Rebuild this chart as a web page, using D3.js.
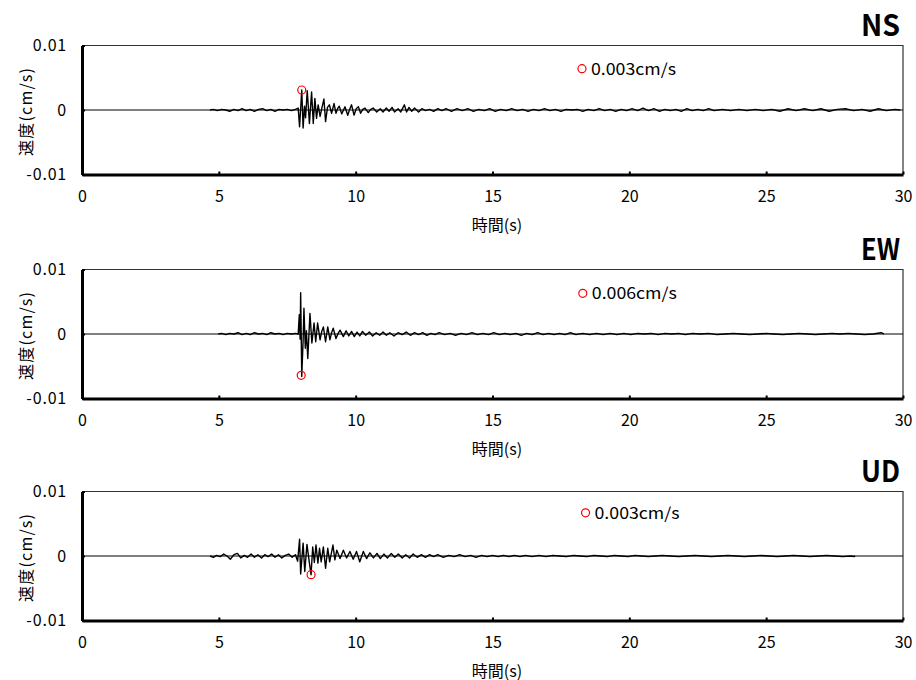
<!DOCTYPE html>
<html><head><meta charset="utf-8">
<script src="https://cdn.jsdelivr.net/npm/d3@7"></script>
<style>
html,body{margin:0;padding:0;background:#fff;}
svg{display:block;}
text{font-family:"Noto Sans CJK JP","Noto Sans",sans-serif;fill:#000;}
</style></head>
<body>
<svg id="chart" width="916" height="680"></svg>
<script>
// ---------- DATA ----------
const components = ["NS", "EW", "UD"];
const peakLabels = ["0.003cm/s", "0.006cm/s", "0.003cm/s"];
// peak point (time s, velocity cm/s) marked with red circle
const peakPoints = [[8.03, 0.0031], [8.01, -0.0064], [8.37, -0.0029]];
// legend marker position (time s, velocity cm/s)
const legendPoints = [[18.27, 0.0064], [18.3, 0.0063], [18.4, 0.0067]];
const xTicks = [0, 5, 10, 15, 20, 25, 30];
const yTicks = [-0.01, 0, 0.01];
const yTickLabels = ["-0.01", "0", "0.01"];
const xTitle = "時間(s)";
const yTitle = "速度(cm/s)";

// velocity waveforms: [time s, velocity cm/s]
const nsData = [[4.68,0],[4.8,0.0001],[4.95,-0.0001],[5.1,0.0001],[5.25,0],[5.4,-0.0002],[5.55,0.0001],[5.7,-0.0001],[5.85,0.0002],[6.0,-0.0001],[6.15,0.0001],[6.3,-0.0002],[6.45,0.0001],[6.6,0.0002],[6.75,-0.0001],[6.9,0.0001],[7.05,-0.0002],[7.2,0.0001],[7.35,0],[7.5,0.0001],[7.65,-0.0001],[7.8,0.0001],[7.9,0.0003],
[7.95,-0.0026],[8.03,0.0031],[8.08,-0.0028],[8.13,0.0006],[8.17,-0.0012],[8.23,0.0030],[8.31,-0.0021],[8.39,0.0028],[8.45,-0.0021],[8.51,0.0018],[8.57,-0.0013],[8.63,0.0008],[8.70,-0.0010],[8.77,0.0004],[8.84,0.0017],[8.90,-0.0018],[8.97,0.0004],[9.04,0.0008],[9.12,-0.0005],[9.21,0.0010],[9.28,-0.0005],[9.34,0.0002],[9.40,0.0006],[9.49,-0.0006],[9.61,0.0005],[9.71,-0.0008],[9.78,0.0001],[9.85,0.0008],[9.94,-0.0008],[10.02,0.0002],[10.10,0.0005],[10.18,-0.0005],[10.26,0.0001],[10.34,0.0003],[10.46,-0.0004],[10.55,0.0001],[10.64,0.0003],[10.77,-0.0003],
[10.9,0.0002],[11.0,-0.0003],[11.12,0.0003],[11.22,-0.0002],[11.33,0.0004],[11.42,-0.0003],[11.55,0.0002],[11.65,-0.0003],[11.78,0.0008],[11.86,-0.0003],[11.95,0.0004],[12.05,-0.0002],[12.15,0.0003],[12.3,-0.0003],[12.42,0.0002],[12.55,-0.0001],[12.7,0.0001],[12.85,-0.0002],[13.0,0.0002],[13.15,-0.0001],[13.3,0.0002],[13.5,-0.0002],[13.7,0.0002],[13.9,-0.0001],[14.1,0.0002],[14.3,-0.0002],[14.5,0.0001],[14.7,-0.0001],[14.9,0.0002],[15.1,-0.0002],[15.3,0.0001],[15.5,-0.0001],[15.7,0.0002],[15.9,-0.0001],[16.1,0.0001],[16.3,-0.0002],[16.5,0.0001],[16.7,-0.0001],[16.9,0.0002],[17.1,-0.0001],[17.3,0.0001],[17.5,-0.0002],[17.7,0.0001],[17.9,0],[18.1,0.0001],[18.3,-0.0002],[18.5,0.0001],[18.7,-0.0001],[18.9,0.0002],[19.1,-0.0001],[19.3,0.0001],[19.5,-0.0002],[19.7,0.0001],[19.9,-0.0001],[20.1,0.0002],[20.3,-0.0001],[20.5,0.0003],[20.7,-0.0001],[20.9,0.0002],[21.1,-0.0002],[21.3,0.0001],[21.5,-0.0001],[21.7,0.0001],[21.9,-0.0002],[22.1,0.0002],[22.3,-0.0001],[22.5,0.0001],[22.7,-0.0001],[22.9,0.0002],[23.1,-0.0001],[23.4,0.0001],[23.7,-0.0001],[24.0,0.0001],[24.3,-0.0001],[24.6,0.0001],[24.9,-0.0001],[25.2,0.0001],[25.5,-0.0002],[25.8,0.0002],[26.1,-0.0001],[26.4,0.0002],[26.7,-0.0001],[27.0,0.0002],[27.3,-0.0002],[27.6,0.0001],[27.9,0.0002],[28.2,-0.0001],[28.5,0.0001],[28.8,-0.0002],[29.1,0.0002],[29.4,-0.0001],[29.7,0.0001],[29.9,0]];

const ewData = [[4.98,0],[5.1,0.0001],[5.25,-0.0001],[5.4,0.0001],[5.55,0],[5.7,0.0002],[5.85,-0.0001],[6.0,0.0001],[6.15,-0.0001],[6.3,0.0002],[6.45,0],[6.6,0.0001],[6.75,-0.0001],[6.9,0.0002],[7.05,0],[7.2,0.0001],[7.35,-0.0001],[7.5,0.0001],[7.65,0],[7.8,0.0001],[7.9,0],
[7.94,0.0030],[7.97,-0.0008],[7.99,0.0064],[8.03,-0.0066],[8.08,-0.0010],[8.11,0.0040],[8.16,-0.0022],[8.20,0.0005],[8.25,-0.0038],[8.33,0.0032],[8.40,-0.0014],[8.48,0.0017],[8.54,-0.0012],[8.61,0.0017],[8.70,-0.0009],[8.76,0.0004],[8.82,0.0011],[8.90,-0.0012],[8.98,0.0011],[9.06,-0.0009],[9.12,0.0002],[9.18,0.0009],[9.28,-0.0007],[9.36,0.0001],[9.43,0.0006],[9.55,-0.0004],[9.65,0.0005],[9.75,-0.0003],[9.85,0.0004],[9.95,-0.0004],[10.05,0.0003],[10.15,-0.0003],[10.25,0.0004],[10.37,-0.0002],[10.5,0.0003],[10.62,-0.0003],[10.75,0.0002],[10.88,-0.0002],[11.0,0.0003],[11.12,-0.0002],[11.25,0.0002],[11.4,-0.0003],[11.55,0.0002],[11.7,-0.0001],[11.85,0.0003],[12.0,-0.0002],[12.15,0.0002],[12.3,-0.0001],[12.45,0.0002],[12.6,-0.0002],[12.75,0.0001],[12.9,-0.0001],[13.05,0.0002],[13.25,-0.0001],[13.45,0.0001],[13.65,-0.0002],[13.85,0.0001],[14.05,-0.0001],[14.25,0.0002],[14.45,-0.0001],[14.65,0.0001],[14.85,-0.0001],[15.05,0.0002],[15.25,-0.0001],[15.45,0.0001],[15.65,-0.0001],[15.85,0.0001],[16.05,-0.0002],[16.25,0.0001],[16.45,-0.0001],[16.65,0.0002],[16.85,-0.0001],[17.05,0.0001],[17.25,-0.0001],[17.45,0.0001],[17.65,-0.0001],[17.85,0.0002],[18.05,-0.0001],[18.3,0.0001],[18.55,-0.0001],[18.8,0.0001],[19.05,-0.0001],[19.3,0.0001],[19.55,-0.0001],[19.8,0.0001],[20.05,-0.0001],[20.3,0.0001],[20.55,0],[20.8,0.0001],[21.05,-0.0001],[21.3,0.0001],[21.55,0],[21.8,0.0001],[22.05,-0.0001],[22.3,0.0001],[22.6,0],[22.9,0.0001],[23.2,-0.0001],[23.5,0],[23.8,0.0001],[24.1,0],[24.4,-0.0001],[24.7,0],[25.0,0.0001],[25.3,0],[25.6,-0.0001],[25.9,0],[26.2,0.0001],[26.5,0],[26.8,-0.0001],[27.1,0],[27.4,0.0001],[27.7,0],[28.0,0.0001],[28.3,0],[28.6,-0.0001],[28.9,0],[29.2,0.0002],[29.3,0]];

const udData = [[4.68,0],[4.80,-0.0002],[4.92,0.0001],[5.05,-0.0001],[5.18,0.0003],[5.30,0],[5.42,-0.0005],[5.55,0.0002],[5.68,0.0004],[5.80,-0.0003],[5.93,0.0001],[6.05,-0.0002],[6.18,0.0003],[6.30,-0.0002],[6.43,0.0002],[6.56,-0.0003],[6.68,0.0002],[6.80,-0.0001],[6.93,0.0003],[7.05,-0.0002],[7.18,0.0002],[7.30,-0.0003],[7.43,0.0001],[7.55,0.0003],[7.68,-0.0002],[7.80,0.0002],
[7.88,-0.0008],[7.95,0.0026],[7.99,-0.0028],[8.08,0.0020],[8.14,-0.0024],[8.22,0.0018],[8.30,-0.0008],[8.37,-0.0029],[8.43,0.0014],[8.49,-0.0010],[8.55,0.0017],[8.62,-0.0011],[8.68,0.0012],[8.74,-0.0009],[8.82,0.0014],[8.90,-0.0019],[8.98,0.0012],[9.05,-0.0009],[9.17,0.0017],[9.24,-0.0006],[9.31,0.0009],[9.43,-0.0004],[9.55,0.0009],[9.67,-0.0003],[9.79,0.0007],[9.91,-0.0005],[10.03,0.0007],[10.15,-0.0009],[10.28,0.0007],[10.4,-0.0004],[10.52,0.0005],[10.65,-0.0003],[10.78,0.0004],[10.9,-0.0004],[11.03,0.0003],[11.16,-0.0003],[11.3,0.0004],[11.43,-0.0002],[11.56,0.0003],[11.7,-0.0003],[11.83,0.0002],[11.97,-0.0003],[12.1,0.0003],[12.25,-0.0002],[12.4,0.0002],[12.55,-0.0002],[12.7,0.0002],[12.85,-0.0001],[13.0,0.0002],[13.2,-0.0002],[13.4,0.0001],[13.6,-0.0001],[13.8,0.0002],[14.0,-0.0001],[14.2,0.0001],[14.4,-0.0002],[14.6,0.0001],[14.8,-0.0001],[15.0,0.0001],[15.2,-0.0001],[15.4,0.0001],[15.6,-0.0001],[15.8,0.0001],[16.0,-0.0001],[16.2,0.0001],[16.45,-0.0001],[16.7,0.0001],[16.95,-0.0001],[17.2,0.0001],[17.45,0],[17.7,-0.0001],[17.95,0.0001],[18.2,0],[18.45,-0.0001],[18.7,0.0001],[18.95,0],[19.2,-0.0001],[19.45,0.0001],[19.7,0],[19.95,-0.0001],[20.2,0.0001],[20.45,0],[20.7,-0.0001],[20.95,0],[21.2,0.0001],[21.5,0],[21.8,-0.0001],[22.1,0],[22.4,0.0001],[22.7,0],[23.0,-0.0001],[23.3,0],[23.6,0.0001],[23.9,0],[24.2,-0.0001],[24.5,0],[24.8,0.0001],[25.1,0],[25.4,-0.0001],[25.7,0],[26.0,0.0001],[26.3,0],[26.6,-0.0001],[26.9,0],[27.2,0.0001],[27.5,0],[27.8,-0.0001],[28.1,0],[28.2,-0.0001],[28.25,0]];

const seriesData = [nsData, ewData, udData];

// ---------- LAYOUT ----------
const svg = d3.select("#chart");
const left = 82, right = 903, panelH = 129;
const tops = [45.5, 269.5, 491.5];
const x = d3.scaleLinear().domain([0, 30]).range([left, right]);

components.forEach((name, i) => {
  const top = tops[i], bottom = top + panelH;
  const y = d3.scaleLinear().domain([-0.01, 0.01]).range([bottom, top]);
  const g = svg.append("g");

  // top & right frame (thin)
  g.append("path")
    .attr("d", `M${left},${top}H${right}V${bottom}`)
    .attr("fill", "none").attr("stroke", "#333").attr("stroke-width", 1.2);

  // zero line
  g.append("line")
    .attr("x1", x(0)).attr("x2", x(30))
    .attr("y1", y(0)).attr("y2", y(0))
    .attr("stroke", "#000").attr("stroke-width", 1);

  // waveform
  const line = d3.line().x(d => x(d[0])).y(d => y(d[1]));
  g.append("path").datum(seriesData[i])
    .attr("d", line)
    .attr("fill", "none").attr("stroke", "#000")
    .attr("stroke-width", 1.4).attr("stroke-linejoin", "round");

  // axes
  const xAxis = d3.axisBottom(x).tickValues(xTicks).tickSizeInner(-3).tickSizeOuter(0).tickPadding(16)
    .tickFormat(d3.format("d"));
  const gx = g.append("g").attr("transform", `translate(0,${bottom})`).call(xAxis);
  const yAxis = d3.axisLeft(y).tickValues(yTicks).tickSizeInner(-3).tickSizeOuter(0).tickPadding(15)
    .tickFormat((d, k) => yTickLabels[k]);
  const gy = g.append("g").attr("transform", `translate(${left},0)`).call(yAxis);

  [gx, gy].forEach(a => {
    a.select(".domain").attr("stroke", "#000").attr("stroke-width", 3);
    a.selectAll(".tick line").attr("stroke", "#000").attr("stroke-width", 2);
    a.selectAll(".tick text").attr("font-size", 16)
      .attr("font-family", '"Noto Sans CJK JP","Noto Sans",sans-serif').attr("fill", "#000");
  });
  gy.selectAll(".tick text").attr("letter-spacing", 0.8);

  // axis titles
  g.append("text")
    .attr("x", 497).attr("y", bottom + 56)
    .attr("text-anchor", "middle").attr("font-size", 16)
    .text(xTitle);
  g.append("text")
    .attr("transform", `translate(32,${y(0) + 2}) rotate(-90)`)
    .attr("text-anchor", "middle").attr("font-size", 16)
    .attr("textLength", 88).attr("lengthAdjust", "spacing")
    .text(yTitle);

  // component title
  g.append("text")
    .attr("x", 900).attr("y", top - 10)
    .attr("text-anchor", "end")
    .attr("font-family", '"Liberation Sans Narrow","Liberation Sans",Arial,sans-serif')
    .attr("font-weight", "bold").attr("font-size", 29)
    .attr("textLength", 39).attr("lengthAdjust", "spacingAndGlyphs")
    .text(name);

  // peak marker
  const p = peakPoints[i];
  g.append("circle")
    .attr("cx", x(p[0])).attr("cy", y(p[1])).attr("r", 4)
    .attr("fill", "none").attr("stroke", "#ff0000").attr("stroke-width", 1.2);

  // legend
  const lp = legendPoints[i];
  g.append("circle")
    .attr("cx", x(lp[0])).attr("cy", y(lp[1])).attr("r", 4)
    .attr("fill", "none").attr("stroke", "#ff0000").attr("stroke-width", 1.2);
  g.append("text")
    .attr("x", x(lp[0]) + 9).attr("y", y(lp[1]) + 6)
    .attr("font-size", 16)
    .attr("textLength", 85).attr("lengthAdjust", "spacingAndGlyphs")
    .text(peakLabels[i]);
});
</script>
</body></html>
